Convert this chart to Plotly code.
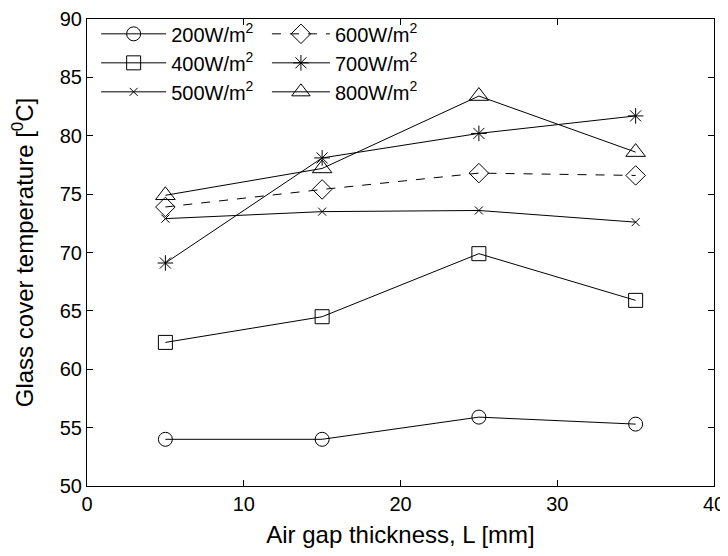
import plotly.graph_objects as go

gap_mm = [5, 15, 25, 35]
t_200 = [54.0, 54.0, 55.9, 55.3]
t_400 = [62.3, 64.5, 69.9, 65.9]
t_500 = [72.9, 73.5, 73.6, 72.6]
t_600 = [73.9, 75.4, 76.8, 76.6]
t_700 = [69.1, 78.1, 80.2, 81.7]
t_800 = [74.9, 77.2, 83.4, 78.6]

series = [
    ("200W/m<sup>2</sup>", t_200, "circle-open", 14, "solid", "legend"),
    ("400W/m<sup>2</sup>", t_400, "square-open", 14, "solid", "legend"),
    ("500W/m<sup>2</sup>", t_500, "x-thin-open", 8, "solid", "legend"),
    ("600W/m<sup>2</sup>", t_600, "diamond-open", 15, "dash", "legend2"),
    ("700W/m<sup>2</sup>", t_700, "asterisk-open", 13, "solid", "legend2"),
    ("800W/m<sup>2</sup>", t_800, "triangle-up-open", 17, "solid", "legend2"),
]

fig = go.Figure()
for name, ys, sym, sz, dash, leg in series:
    fig.add_trace(go.Scatter(
        x=gap_mm, y=ys, name=name, mode="lines+markers",
        line=dict(color="black", width=1, dash=dash),
        marker=dict(symbol=sym, size=sz, color="black", line=dict(width=1, color="black")),
        legend=leg,
    ))

font = "Liberation Sans, Arial, sans-serif"
fig.update_layout(
    width=720, height=548,
    margin=dict(l=79, r=14, t=6, b=70),
    paper_bgcolor="white", plot_bgcolor="white",
    font=dict(family=font, size=20, color="black"),
    legend=dict(x=0.0146, y=1.01, xanchor="left", yanchor="top", bgcolor="rgba(0,0,0,0)",
                font=dict(size=20), tracegroupgap=0, itemwidth=65),
    legend2=dict(x=0.287, y=1.01, xanchor="left", yanchor="top", bgcolor="rgba(0,0,0,0)",
                 font=dict(size=20), tracegroupgap=0, itemwidth=58),
    xaxis=dict(range=[0, 40], dtick=10, showline=True, linecolor="black", linewidth=1,
               mirror="ticks", ticks="inside", ticklen=6, tickcolor="black",
               showgrid=False, zeroline=False, automargin=False,
               title=dict(text="Air gap thickness, L [mm]", standoff=12)),
    yaxis=dict(range=[50, 90], dtick=5, showline=True, linecolor="black", linewidth=1,
               mirror="ticks", ticks="inside", ticklen=6, tickcolor="black",
               showgrid=False, zeroline=False, automargin=False,
               title=dict(text="Glass cover temperature [<sup>0</sup>C]", standoff=25)),
)

fig.write_html("out.html")
